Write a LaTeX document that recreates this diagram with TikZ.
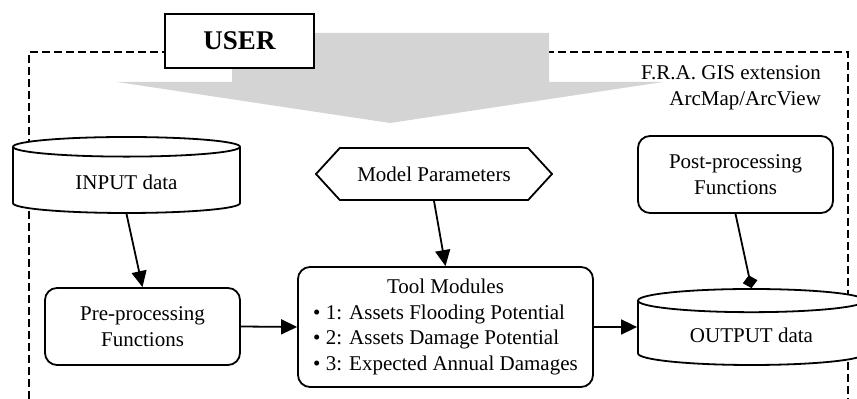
\documentclass[tikz,border=0pt]{standalone}
\usepackage{fontspec}
\setmainfont{Liberation Serif}
\usetikzlibrary{shapes.geometric,shapes.symbols,arrows.meta}

\begin{document}
\begin{tikzpicture}[x=0.5pt,y=-0.5pt,
    every node/.style={font=\fontsize{10.5}{12.75}\selectfont},
    func/.style={draw,rounded corners=6pt,line width=0.9pt,fill=white,
      minimum width=97.5pt,minimum height=38.5pt,align=center,inner sep=2pt},
    store/.style={draw,cylinder,shape border rotate=90,aspect=0.17,
      line width=0.9pt,fill=white,minimum width=113.5pt,minimum height=38pt},
    flow/.style={line width=0.9pt,-{Triangle[length=8pt,width=7.5pt]}}
  ]
  \useasboundingbox (0,0) rectangle (857,399);
  % frame of the extension and the user arrow
  \draw[line width=0.8pt,dash pattern=on 4pt off 2pt]
    (29,399) -- (29,52) -- (848,52) -- (848,399);
  \fill[black!17] (232,33) -- (549,33) -- (549,82) -- (663,82)
    -- (390,123) -- (117,82) -- (232,82) -- cycle;
  \node[draw,line width=0.9pt,fill=white,minimum width=74.5pt,minimum height=27pt,
    font=\fontsize{13.5}{16}\selectfont\bfseries] (user) at (239.5,41) {USER};
  \node[anchor=east,align=right] (ext) at (828,88)
    {F.R.A. GIS extension\\ArcMap/ArcView};
  % data stores and functions
  \node[store,anchor=shape center] (input) at (126.5,175) {INPUT data};
  \node[store,anchor=shape center] (output) at (751.5,327) {OUTPUT data};
  \node[draw,signal,signal to=east and west,signal pointer angle=95,
    line width=0.9pt,fill=white,minimum width=118pt,minimum height=26pt]
    (param) at (434,174) {Model Parameters};
  \node[func] (pre) at (142.5,326.5) {Pre-processing\\Functions};
  \node[func] (post) at (735.5,174.5) {Post-processing\\Functions};
  \node[func,minimum width=147.5pt,minimum height=60pt] (tool) at (445.5,327)
    {\begin{tabular}{@{}l@{}}
      \multicolumn{1}{@{}c@{}}{Tool Modules}\\
      \textbullet\ 1: Assets Flooding Potential\\
      \textbullet\ 2: Assets Damage Potential\\
      \textbullet\ 3: Expected Annual Damages
    \end{tabular}};
  % connectors
  \draw[flow] (input.south) -- (pre.north);
  \draw[flow] (pre.east) -- (tool.west);
  \draw[flow] (param.south) -- (tool.north);
  \draw[flow] (tool.east) -- (tool.east -| output.west);
  \draw[line width=0.9pt,-{Diamond[length=6.5pt,width=7.5pt]}]
    (post.south) -- (output.north);
\end{tikzpicture}
\end{document}
